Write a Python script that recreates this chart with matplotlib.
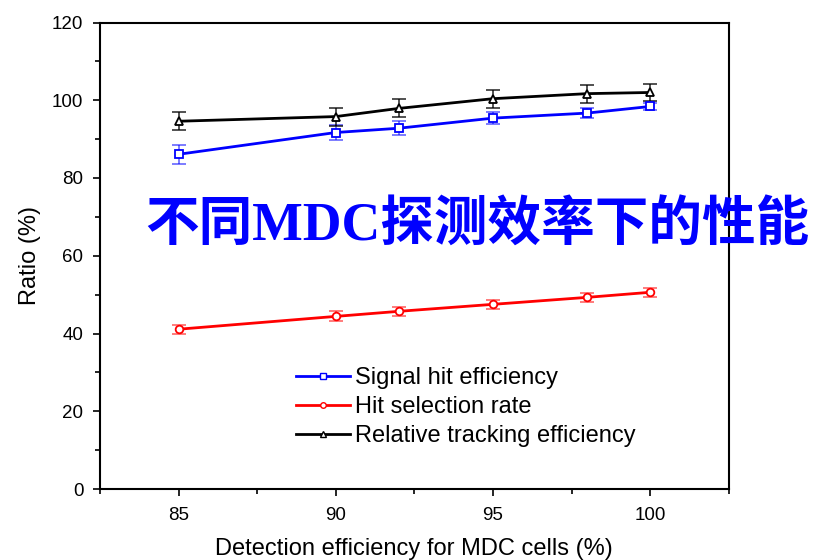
import matplotlib.pyplot as plt
from matplotlib.ticker import MultipleLocator

# Detection efficiency for MDC cells (%)
efficiency = [85, 90, 92, 95, 98, 100]

signal_hit = [86.1, 91.7, 92.8, 95.4, 96.7, 98.4]
signal_hit_err = [2.4, 2.0, 1.8, 1.5, 1.3, 0.8]

hit_selection = [41.1, 44.4, 45.7, 47.5, 49.3, 50.6]
hit_selection_err = [1.2, 1.3, 1.2, 1.2, 1.2, 1.2]

tracking = [94.6, 95.8, 97.9, 100.4, 101.7, 102.0]
tracking_err = [2.3, 2.3, 2.3, 2.3, 2.3, 2.2]

labels = ["Signal hit efficiency", "Hit selection rate", "Relative tracking efficiency"]

plt.rcParams["font.family"] = ["Liberation Sans", "DejaVu Sans"]

fig = plt.figure(figsize=(8.15, 5.6), dpi=100)
ax = fig.add_axes([100 / 815, 71 / 560, 628.7 / 815, 466.5 / 560])

series = [
    (signal_hit, signal_hit_err, "#0000ff", "s", (0, 0, 1, 0.6)),
    (hit_selection, hit_selection_err, "#ff0000", "o", (1, 0, 0, 0.6)),
    (tracking, tracking_err, "#000000", "^", (0, 0, 0, 0.8)),
]
handles = []
for (vals, errs, col, mk, ecol), lab in zip(series, labels):
    ax.errorbar(efficiency, vals, yerr=errs, fmt="none", ecolor=ecol,
                elinewidth=1.2, capsize=5, capthick=1.2, zorder=2)
    h, = ax.plot(efficiency, vals, color=col, lw=2, marker=mk, ms=5.5,
                 mfc="white", mec=col, mew=1.3, label=lab, zorder=3)
    handles.append(h)

ax.set_xlim(82.5, 102.5)
ax.set_ylim(0, 120)
ax.xaxis.set_major_locator(MultipleLocator(5))
ax.xaxis.set_minor_locator(MultipleLocator(2.5))
ax.yaxis.set_major_locator(MultipleLocator(20))
ax.yaxis.set_minor_locator(MultipleLocator(10))
ax.tick_params(which="major", direction="out", length=5, width=1.2, labelsize=13.5,
               top=False, right=False)
ax.tick_params(axis="x", which="major", pad=8)
ax.tick_params(axis="y", which="major", pad=7)
ax.tick_params(which="minor", direction="out", length=3.5, width=1.2,
               top=False, right=False)
for s in ax.spines.values():
    s.set_linewidth(1.5)

ax.set_xlabel("Detection efficiency for MDC cells (%)", fontsize=17, labelpad=10)
ax.set_ylabel("Ratio (%)", fontsize=17, labelpad=8)

leg = ax.legend(handles=[plt.Line2D([], [], color=h.get_color(), lw=2, marker=h.get_marker(),
                                    ms=4, mfc="white", mec=h.get_color(), mew=1)
                         for h in handles],
                labels=labels, loc="upper left", bbox_to_anchor=(0.312, 0.262),
                frameon=False, fontsize=17, handlelength=2.3, handletextpad=0.2,
                labelspacing=0.3, borderaxespad=0, borderpad=0)

fig.text(477 / 815, 1 - 227 / 560, "不同MDC探测效率下的性能", color="#0000ff",
         fontsize=38.6, fontweight="bold", ha="center", va="center",
         family=["Liberation Serif", "Noto Sans CJK SC"], zorder=10)

fig.savefig("out.png", dpi=100)
